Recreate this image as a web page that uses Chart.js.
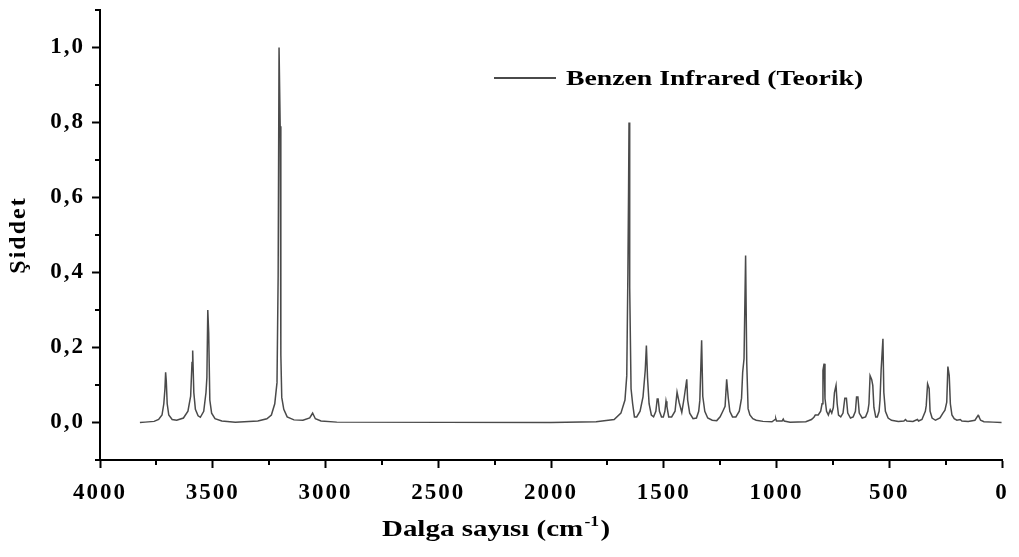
<!DOCTYPE html>
<html>
<head>
<meta charset="utf-8">
<script src="https://cdn.jsdelivr.net/npm/chart.js@4.4.1/dist/chart.umd.min.js"></script>
<style>
  html, body { margin: 0; padding: 0; background: #fff; }
</style>
</head>
<body>
<canvas id="ir-chart" width="1019" height="557"></canvas>
<script>
// wavenumber (cm-1) and intensity
const wavenumber = [
  3823, 3800, 3760, 3740, 3725, 3717, 3712, 3709, 3706, 3702,
  3695, 3680, 3660, 3630, 3610, 3598, 3592, 3589, 3584, 3577,
  3565, 3555, 3540, 3530, 3526, 3522, 3518, 3513, 3505, 3490,
  3460, 3400, 3300, 3260, 3240, 3225, 3215, 3210, 3206, 3201,
  3198, 3194, 3185, 3170, 3140, 3100, 3070, 3060, 3057, 3053,
  3045, 3020, 2950, 2000,
  1800, 1720, 1690, 1672, 1664, 1659, 1656, 1654, 1651, 1645,
  1638, 1630, 1620, 1605, 1592, 1582, 1577, 1572, 1565, 1555,
  1545, 1535, 1529, 1525, 1519, 1510, 1502, 1495, 1490, 1486,
  1478, 1465, 1450, 1441, 1432, 1420, 1410, 1398, 1394, 1385,
  1370, 1355, 1345, 1340, 1332, 1327, 1318, 1305, 1285, 1265,
  1250, 1238, 1228, 1221, 1214, 1207, 1195, 1180, 1165, 1155,
  1150, 1144, 1137, 1132, 1126, 1118, 1105, 1090, 1060, 1020,
  1006, 1003, 1000, 975, 970, 966, 940, 870, 845, 834,
  828, 815, 804, 798, 794, 789, 785, 778, 770, 762,
  755, 748, 743, 736, 731, 725, 715, 705, 697, 690,
  684, 672, 660, 650, 645, 639, 633, 620, 605, 595,
  590, 585, 578, 573, 568, 560, 553, 545, 541, 536,
  528, 524, 517, 505, 490, 460, 435, 428, 422, 395,
  375, 370, 355, 340, 336, 330, 323, 319, 310, 295,
  275, 262, 253, 245, 240, 234, 229, 222, 212, 200,
  185, 178, 150, 120, 106, 102, 95, 80, 40, 2
]

const intensity = [
  0, 0.001, 0.003, 0.008, 0.02, 0.05, 0.09, 0.134, 0.11, 0.05,
  0.02, 0.008, 0.006, 0.012, 0.03, 0.07, 0.16, 0.192, 0.08, 0.035,
  0.018, 0.014, 0.03, 0.08, 0.12, 0.30, 0.24, 0.06, 0.025, 0.01,
  0.004, 0.001, 0.004, 0.01, 0.02, 0.05, 0.107, 0.39, 1.0, 0.79,
  0.18, 0.067, 0.035, 0.015, 0.007, 0.006, 0.012, 0.022, 0.025, 0.02,
  0.01, 0.004, 0.001, 0,
  0.002, 0.008, 0.025, 0.06, 0.125, 0.4, 0.62, 0.80, 0.36, 0.09,
  0.05, 0.015, 0.015, 0.03, 0.068, 0.14, 0.205, 0.12, 0.05, 0.02,
  0.015, 0.03, 0.063, 0.063, 0.03, 0.015, 0.015, 0.03, 0.057, 0.043,
  0.015, 0.015, 0.03, 0.081, 0.054, 0.027, 0.064, 0.115, 0.06, 0.025,
  0.01, 0.012, 0.03, 0.059, 0.219, 0.07, 0.03, 0.012, 0.006, 0.005,
  0.015, 0.03, 0.043, 0.115, 0.066, 0.03, 0.015, 0.015, 0.03, 0.065,
  0.134, 0.17, 0.445, 0.16, 0.037, 0.02, 0.01, 0.006, 0.003, 0.002,
  0.008, 0.01, 0.004, 0.004, 0.009, 0.004, 0.001, 0.002, 0.008, 0.014,
  0.02, 0.02, 0.03, 0.05, 0.139, 0.157, 0.064, 0.03, 0.02, 0.034,
  0.025, 0.04, 0.08, 0.099, 0.05, 0.02, 0.015, 0.025, 0.065, 0.065,
  0.025, 0.012, 0.015, 0.03, 0.068, 0.068, 0.025, 0.012, 0.015, 0.03,
  0.05, 0.125, 0.115, 0.099, 0.04, 0.015, 0.015, 0.03, 0.06, 0.14,
  0.223, 0.08, 0.03, 0.012, 0.006, 0.003, 0.004, 0.008, 0.004, 0.003,
  0.008, 0.004, 0.008, 0.03, 0.045, 0.103, 0.09, 0.03, 0.012, 0.006,
  0.012, 0.025, 0.033, 0.054, 0.149, 0.125, 0.05, 0.02, 0.01, 0.006,
  0.008, 0.004, 0.003, 0.006, 0.019, 0.015, 0.006, 0.002, 0.001, 0
]

const xMajorTicks = [4000, 3500, 3000, 2500, 2000, 1500, 1000, 500, 0]
const xMinorTicks = [3750, 3250, 2750, 2250, 1750, 1250, 750, 250]
const yMajorTicks = [0, 0.2, 0.4, 0.6, 0.8, 1.0]
const yTickLabels = ['0,0', '0,2', '0,4', '0,6', '0,8', '1,0']
const yMinorTicks = [-0.1, 0.1, 0.3, 0.5, 0.7, 0.9, 1.1]

const seriesLabel = 'Benzen Infrared (Teorik)'
const xTitle = 'Dalga sayısı (cm'
const xTitleSup = '-1'

const serif = 'Liberation Serif, Times New Roman, serif'
const lineColor = '#4a4a4a'
const stretch = 1.26  // the source text is a bit wide

// wider letters for the library's own tick labels
const spacing = {
  id: 'spacing',
  beforeLayout(chart) { chart.ctx.letterSpacing = '2px' },
  beforeDraw(chart) { chart.ctx.letterSpacing = '2px' }
}

// minor ticks, legend and x title drawn on top
const extras = {
  id: 'extras',
  afterDraw(chart) {
    const c = chart.ctx
    const area = chart.chartArea
    const xs = chart.scales.x
    const ys = chart.scales.y

    c.save()
    c.letterSpacing = '0px'
    c.strokeStyle = '#000'
    c.lineWidth = 2
    c.beginPath()
    yMinorTicks.forEach(v => {
      const py = Math.round(ys.getPixelForValue(v))
      c.moveTo(area.left - 5, py)
      c.lineTo(area.left, py)
    })
    xMinorTicks.forEach(v => {
      const px = Math.round(xs.getPixelForValue(v))
      c.moveTo(px, area.bottom)
      c.lineTo(px, area.bottom + 5)
    })
    c.stroke()

    // legend
    c.strokeStyle = lineColor
    c.lineWidth = 2
    c.beginPath()
    c.moveTo(494, 78)
    c.lineTo(556, 78)
    c.stroke()
    c.fillStyle = '#000'
    c.textBaseline = 'middle'
    c.textAlign = 'left'
    c.save()
    c.translate(566, 79)
    c.scale(stretch, 1)
    c.font = 'bold 22px ' + serif
    c.fillText(seriesLabel, 0, 0)
    c.restore()

    // x axis title with superscript
    c.textBaseline = 'alphabetic'
    c.font = 'bold 23px ' + serif
    const w1 = c.measureText(xTitle).width
    const w3 = c.measureText(')').width
    c.font = 'bold 14px ' + serif
    const w2 = c.measureText(xTitleSup).width
    const total = (w1 + w2 + w3 + 2) * stretch
    c.save()
    c.translate(496 - total / 2, 536)
    c.scale(stretch, 1)
    c.font = 'bold 23px ' + serif
    c.fillText(xTitle, 0, 0)
    c.font = 'bold 14px ' + serif
    c.fillText(xTitleSup, w1 + 1, -10)
    c.font = 'bold 23px ' + serif
    c.fillText(')', w1 + w2 + 2, 0)
    c.restore()
    c.restore()
  }
}

const ctx = document.getElementById('ir-chart').getContext('2d')

new Chart(ctx, {
  type: 'line',
  data: {
    datasets: [{
      label: seriesLabel,
      data: wavenumber.map((w, i) => ({ x: w, y: intensity[i] })),
      borderColor: lineColor,
      borderWidth: 1.5,
      pointRadius: 0,
      tension: 0,
      fill: false
    }]
  },
  options: {
    responsive: false,
    animation: false,
    devicePixelRatio: 1,
    layout: { padding: { left: 0, right: 17, top: 10, bottom: 0 } },
    plugins: {
      legend: { display: false },
      tooltip: { enabled: false }
    },
    scales: {
      x: {
        type: 'linear',
        reverse: true,
        min: 0,
        max: 4000,
        afterBuildTicks: s => { s.ticks = xMajorTicks.map(v => ({ value: v })) },
        afterFit: s => { s.height = 97; s.paddingLeft = 0; s.paddingRight = 0 },
        ticks: {
          color: '#000',
          font: { family: serif, size: 23, weight: 'bold' },
          padding: 11,
          maxRotation: 0,
          autoSkip: false,
          callback: v => String(v)
        },
        grid: { drawOnChartArea: false, tickLength: 8, tickWidth: 2, tickColor: '#000' },
        border: { color: '#000', width: 2 }
      },
      y: {
        min: -0.1,
        max: 1.1,
        afterBuildTicks: s => { s.ticks = yMajorTicks.map(v => ({ value: v })) },
        afterFit: s => { s.width = 100; s.paddingTop = 0; s.paddingBottom = 0 },
        ticks: {
          color: '#000',
          font: { family: serif, size: 23, weight: 'bold' },
          padding: 7,
          callback: v => yTickLabels[yMajorTicks.indexOf(v)]
        },
        grid: { drawOnChartArea: false, tickLength: 8, tickWidth: 2, tickColor: '#000' },
        border: { color: '#000', width: 2 },
        title: {
          display: true,
          text: 'Şiddet',
          color: '#000',
          font: { family: serif, size: 24, weight: 'bold' },
          padding: { top: 4, bottom: 2 }
        }
      }
    }
  },
  plugins: [spacing, extras]
})
</script>
</body>
</html>
